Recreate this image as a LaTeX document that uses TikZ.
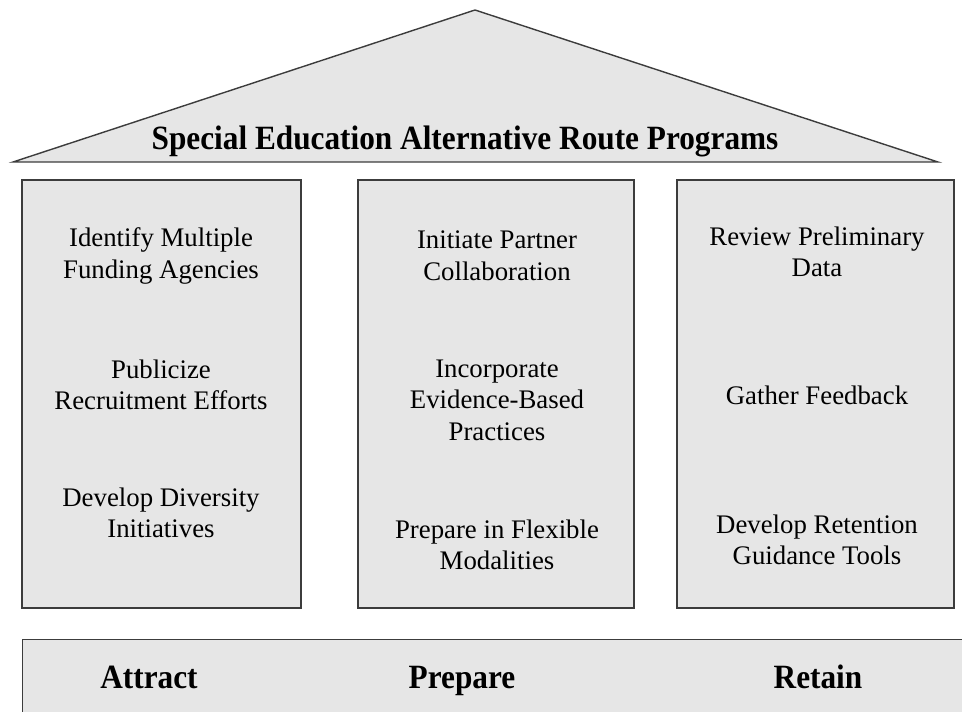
\documentclass[tikz,border=0pt]{standalone}
\usepackage{fontspec}
\setmainfont{Liberation Serif}
\newfontfamily\headfont[FakeStretch=0.92]{Liberation Serif}
\usetikzlibrary{positioning}
\definecolor{hsfill}{HTML}{E6E6E6}
\definecolor{hsline}{HTML}{3C3C3C}

\begin{document}
\begin{tikzpicture}[x=0.5pt, y=-0.5pt,
  pillar/.style={draw=hsline, fill=hsfill, line width=0.7pt, inner sep=0pt, minimum height=214pt},
  item/.style={align=center, inner sep=0pt, font=\fontsize{13.4}{15.8}\selectfont},
  heading/.style={anchor=base, inner sep=0pt, font=\headfont\bfseries\fontsize{17}{20}\selectfont},
]
  \clip (0,0) rectangle (962,711);

  % roof
  \draw[draw=hsline, fill=hsfill, line width=0.7pt] (13,162) -- (475,10) -- (938,162) -- cycle;
  \node[heading] (title) at (465,150) {Special Education Alternative Route Programs};

  % pillars
  \node[pillar, minimum width=139.5pt] (attractcol) at (161.5,394) {};
  \node[pillar, minimum width=138pt] (preparecol) at (496,394) {};
  \node[pillar, minimum width=138.5pt] (retaincol) at (815.5,394) {};

  \node[item] (funding) at (161,256) {Identify Multiple\\Funding Agencies};
  \node[item] (publicize) at (161,385) {Publicize\\Recruitment Efforts};
  \node[item] (diversity) at (161,513) {Develop Diversity\\Initiatives};

  \node[item] (partner) at (497,256) {Initiate Partner\\Collaboration};
  \node[item] (evidence) at (497,400) {Incorporate\\Evidence-Based\\Practices};
  \node[item] (modalities) at (497,545) {Prepare in Flexible\\Modalities};

  \node[item] (review) at (817,252) {Review Preliminary\\Data};
  \node[item] (feedback) at (817,395) {Gather Feedback};
  \node[item] (retention) at (817,540) {Develop Retention\\Guidance Tools};

  % base
  \node[pillar, anchor=north west, minimum width=500pt, minimum height=60pt] (base) at (22,639) {};
  \node[heading] (attract) at (149,688) {Attract};
  \node[heading] (prepare) at (462,688) {Prepare};
  \node[heading] (retain) at (818,688) {Retain};
\end{tikzpicture}
\end{document}
